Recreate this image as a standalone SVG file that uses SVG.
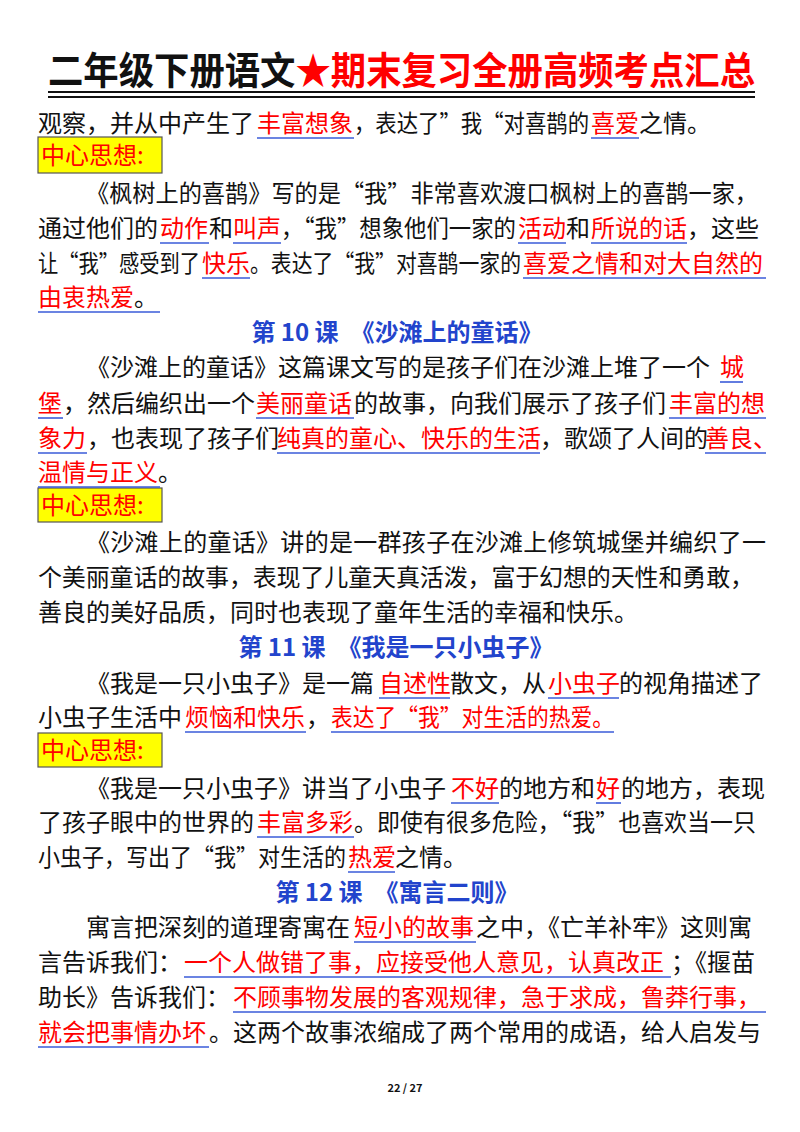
<svg xmlns="http://www.w3.org/2000/svg" width="800" height="1132" viewBox="0 0 800 1132">
<style>
text{font-family:"Noto Sans CJK SC","Noto Sans",sans-serif;font-size:24px;fill:#111}
.r{fill:#ff0000}
.h{fill:#2244cc;font-weight:bold;text-anchor:middle}
.u{stroke:#3a5bd9;stroke-width:1.6}
.box{fill:#ffff00;stroke:#555;stroke-width:1.2}
</style>
<rect width="800" height="1132" fill="#fff"/>
<g id="title">
<text x="48" y="84" style="font-size:38px;font-weight:bold" textLength="707" lengthAdjust="spacingAndGlyphs">二年级下册语文<tspan class="r">★期末复习全册高频考点汇总</tspan></text>
<line x1="48" y1="92" x2="755" y2="92" stroke="#111" stroke-width="2.2"/>
<line x1="48" y1="97" x2="755" y2="97" stroke="#111" stroke-width="2.2"/>
</g>
<g id="text">
<text y="132"><tspan x="38">观察，并从中产生了</tspan><tspan x="257" class="r">丰富想象</tspan></text>
<text x="354" y="132" textLength="235" lengthAdjust="spacingAndGlyphs">，表达了”我“对喜鹊的</text>
<text y="132"><tspan x="591" class="r">喜爱</tspan><tspan x="639">之情。</tspan></text>
<g id="box1"><rect class="box" x="38" y="137" width="124" height="36"/><text x="41" y="164" class="r">中心思想:</text></g>
<text x="86" y="202" textLength="672" lengthAdjust="spacingAndGlyphs">《枫树上的喜鹊》写的是“我”非常喜欢渡口枫树上的喜鹊一家，</text>
<text y="237"><tspan x="38">通过他们的</tspan><tspan x="160" class="r">动作</tspan><tspan x="209">和</tspan><tspan x="233" class="r">叫声</tspan><tspan x="518" class="r">活动</tspan><tspan x="566">和</tspan><tspan x="591" class="r">所说的话</tspan><tspan x="687">，这些</tspan></text>
<text x="281" y="237" textLength="235" lengthAdjust="spacingAndGlyphs">，“我”想象他们一家的</text>
<text x="38" y="272" textLength="162" lengthAdjust="spacingAndGlyphs">让“我”感受到了</text>
<text x="250" y="272" textLength="271" lengthAdjust="spacingAndGlyphs">。表达了“我”对喜鹊一家的</text>
<text y="272"><tspan x="202" class="r">快乐</tspan><tspan x="523" class="r">喜爱之情和对大自然的</tspan></text>
<text y="306"><tspan x="38" class="r">由衷热爱</tspan><tspan x="134">。</tspan></text>
<text class="h" x="397" y="341">第 10 课　《沙滩上的童话》</text>
<text y="376"><tspan x="86">《沙滩上的童话》这篇课文写的是孩子们在沙滩上堆了一个</tspan><tspan x="720" class="r">城</tspan></text>
<text y="412"><tspan x="38" class="r">堡</tspan><tspan x="63">，然后编织出一个</tspan><tspan x="256" class="r">美丽童话</tspan><tspan x="354">的故事，向我们展示了孩子们</tspan><tspan x="669" class="r">丰富的想</tspan></text>
<text y="447"><tspan x="38" class="r">象力</tspan><tspan x="87">，也表现了孩子们</tspan><tspan x="277" class="r">纯真的童心、快乐的生活</tspan><tspan x="540">，歌颂了人间的</tspan><tspan x="705" class="r">善良、</tspan></text>
<text y="481"><tspan x="38" class="r">温情与正义</tspan><tspan x="158">。</tspan></text>
<g id="box2"><rect class="box" x="38" y="488" width="124" height="34"/><text x="41" y="514" class="r">中心思想:</text></g>
<text x="86" y="551" textLength="680">《沙滩上的童话》讲的是一群孩子在沙滩上修筑城堡并编织了一</text>
<text x="38" y="586" textLength="716">个美丽童话的故事，表现了儿童天真活泼，富于幻想的天性和勇敢，</text>
<text x="38" y="621">善良的美好品质，同时也表现了童年生活的幸福和快乐。</text>
<text class="h" x="396" y="656">第 11 课　《我是一只小虫子》</text>
<text y="692"><tspan x="86">《我是一只小虫子》是一篇</tspan><tspan x="379" class="r">自述性</tspan><tspan x="450">散文，从</tspan><tspan x="548" class="r">小虫子</tspan><tspan x="619">的视角描述了</tspan></text>
<text y="726"><tspan x="38">小虫子生活中</tspan><tspan x="185" class="r">烦恼和快乐</tspan><tspan x="306">，</tspan></text>
<text x="331" y="726" class="r" textLength="283" lengthAdjust="spacingAndGlyphs">表达了“我”对生活的热爱。</text>
<g id="box3"><rect class="box" x="38" y="733" width="124" height="34"/><text x="41" y="759" class="r">中心思想:</text></g>
<text y="797"><tspan x="86">《我是一只小虫子》讲当了小虫子</tspan><tspan x="451" class="r">不好</tspan><tspan x="499">的地方和</tspan><tspan x="596" class="r">好</tspan><tspan x="621">的地方，表现</tspan></text>
<text y="831"><tspan x="38">了孩子眼中的世界的</tspan><tspan x="257" class="r">丰富多彩</tspan></text>
<text x="354" y="831" textLength="402" lengthAdjust="spacingAndGlyphs">。即使有很多危险，“我”也喜欢当一只</text>
<text x="38" y="866" textLength="308" lengthAdjust="spacingAndGlyphs">小虫子，写出了“我”对生活的</text>
<text y="866"><tspan x="348" class="r">热爱</tspan><tspan x="395">之情。</tspan></text>
<text class="h" x="397" y="901">第 12 课　《寓言二则》</text>
<text y="936"><tspan x="86">寓言把深刻的道理寄寓在</tspan><tspan x="354" class="r">短小的故事</tspan><tspan x="476">之中，《亡羊补牢》这则寓</tspan></text>
<text y="971"><tspan x="38">言告诉我们：</tspan><tspan x="184" class="r">一个人做错了事，应接受他人意见，认真改正</tspan><tspan x="671">；《揠苗</tspan></text>
<text y="1006"><tspan x="38">助长》告诉我们：</tspan><tspan x="233" class="r">不顾事物发展的客观规律，急于求成，鲁莽行事，</tspan></text>
<text y="1041"><tspan x="38" class="r">就会把事情办坏</tspan><tspan x="209">。这两个故事浓缩成了两个常用的成语，给人启发与</tspan></text>
<text x="405" y="1092" style="font-size:11px;font-weight:bold" text-anchor="middle">22 / 27</text>
</g>
<g id="connectors">
<line class="u" x1="257" y1="138" x2="354" y2="138"/><line class="u" x1="591" y1="138" x2="639" y2="138"/>
<line class="u" x1="160" y1="243" x2="209" y2="243"/><line class="u" x1="233" y1="243" x2="281" y2="243"/><line class="u" x1="518" y1="243" x2="566" y2="243"/><line class="u" x1="591" y1="243" x2="687" y2="243"/>
<line class="u" x1="202" y1="278" x2="250" y2="278"/><line class="u" x1="523" y1="278" x2="766" y2="278"/>
<line class="u" x1="38" y1="312" x2="160" y2="312"/>
<line class="u" x1="720" y1="382" x2="743" y2="382"/>
<line class="u" x1="38" y1="418" x2="63" y2="418"/><line class="u" x1="256" y1="418" x2="354" y2="418"/><line class="u" x1="669" y1="418" x2="766" y2="418"/>
<line class="u" x1="38" y1="453" x2="87" y2="453"/><line class="u" x1="277" y1="453" x2="540" y2="453"/><line class="u" x1="705" y1="453" x2="766" y2="453"/>
<line class="u" x1="38" y1="487" x2="160" y2="487"/>
<line class="u" x1="379" y1="698" x2="450" y2="698"/><line class="u" x1="548" y1="698" x2="619" y2="698"/>
<line class="u" x1="185" y1="732" x2="306" y2="732"/><line class="u" x1="331" y1="732" x2="614" y2="732"/>
<line class="u" x1="451" y1="803" x2="499" y2="803"/><line class="u" x1="596" y1="803" x2="621" y2="803"/>
<line class="u" x1="257" y1="837" x2="354" y2="837"/>
<line class="u" x1="348" y1="872" x2="395" y2="872"/>
<line class="u" x1="354" y1="942" x2="476" y2="942"/>
<line class="u" x1="184" y1="977" x2="671" y2="977"/>
<line class="u" x1="233" y1="1012" x2="766" y2="1012"/>
<line class="u" x1="38" y1="1047" x2="209" y2="1047"/>
</g>
</svg>
